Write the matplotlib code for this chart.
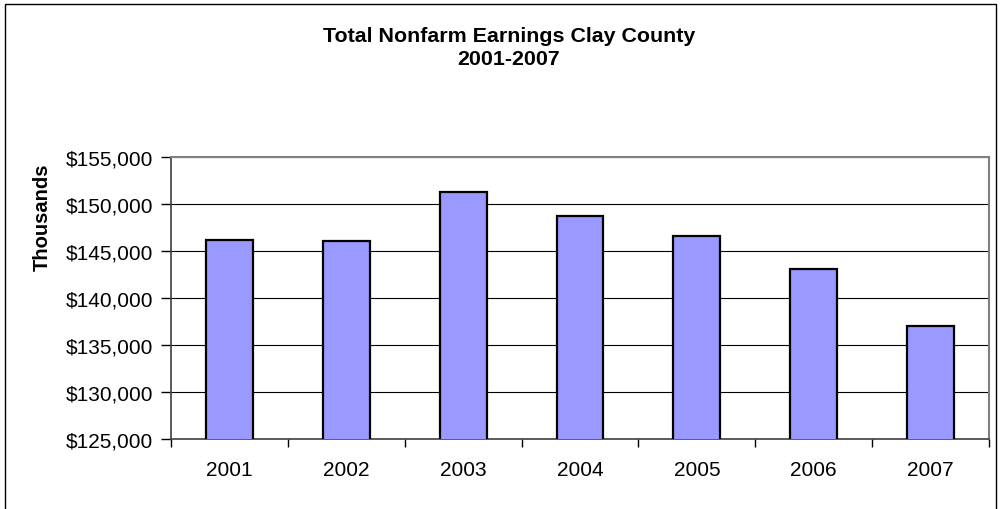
import matplotlib
matplotlib.use("Agg")
import matplotlib.pyplot as plt
from matplotlib.ticker import FuncFormatter, FixedLocator
from matplotlib.patches import Rectangle

plt.rcParams['font.family'] = ['Liberation Sans', 'DejaVu Sans']

years = ['2001', '2002', '2003', '2004', '2005', '2006', '2007']
earnings = [146200, 146100, 151300, 148700, 146600, 143100, 137000]
y_ticks = [125000, 130000, 135000, 140000, 145000, 150000, 155000]
title_text = "Total Nonfarm Earnings Clay County\n2001-2007"
y_label = "Thousands"

W, H = 1001, 510
fig = plt.figure(figsize=(W / 100, H / 100), dpi=100)

# outer chart frame
fig.patches.append(Rectangle((5 / W, -0.1), (996 - 5) / W, 1.1 - 5 / H,
                             transform=fig.transFigure, fill=False,
                             edgecolor='black', linewidth=1.0))

left, right, top, bottom = 171, 989, 158, 440
ax = fig.add_axes([left / W, 1 - bottom / H, (right - left) / W, (bottom - top) / H])

x = list(range(len(years)))
ax.bar(x, earnings, width=0.40, color='#9999FF', edgecolor='black',
       linewidth=1.6, zorder=3)

ax.set_xlim(-0.5, len(years) - 0.5)
ax.set_ylim(y_ticks[0], y_ticks[-1])
ax.set_yticks(y_ticks)
ax.yaxis.set_major_formatter(FuncFormatter(lambda v, p: f"${int(v):,}"))
ax.grid(axis='y', color='black', linewidth=0.8, zorder=1)

ax.set_xticks(x)
ax.set_xticklabels(years)
ax.xaxis.set_minor_locator(FixedLocator([i + 0.5 for i in range(-1, len(years))]))
ax.tick_params(axis='x', which='major', length=0, pad=15, labelsize=15)
ax.tick_params(axis='x', which='minor', length=6, width=1, color='black', direction='out')
ax.tick_params(axis='y', which='major', length=7, width=1, color='black', direction='out',
               pad=6, labelsize=15)

for s in ['top', 'right']:
    ax.spines[s].set_color('#808080')
    ax.spines[s].set_linewidth(1.5)
ax.spines['left'].set_color('#404040')
ax.spines['left'].set_linewidth(1.2)
ax.spines['bottom'].set_color('#404040')
ax.spines['bottom'].set_linewidth(1.2)

fig.text(509 / W, 1 - 48 / H, title_text, ha='center', va='center',
         fontsize=15.4, fontweight='bold', linespacing=1.32)
fig.text(42 / W, 1 - 217 / H, y_label, ha='center', va='center', rotation=90,
         fontsize=14.5, fontweight='bold')

fig.savefig('out.png', dpi=100)
